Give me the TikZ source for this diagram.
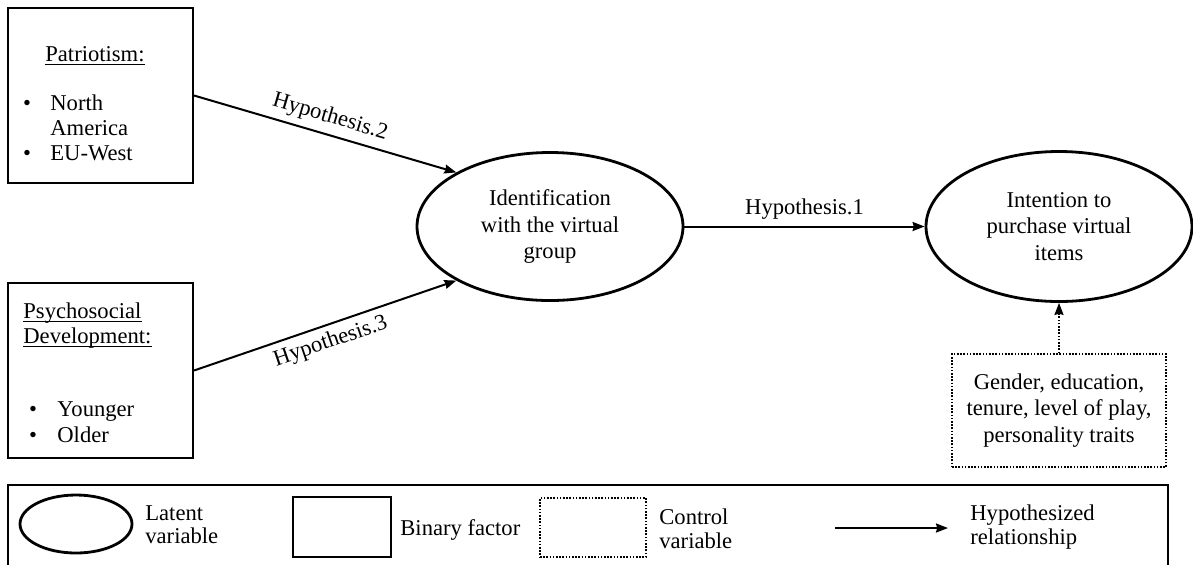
\documentclass[tikz,border=0pt]{standalone}
\usepackage{fontspec}
\setmainfont{Liberation Serif}
\usetikzlibrary{shapes.geometric,arrows.meta}
\begin{document}
\begin{tikzpicture}[x=0.5pt,y=-0.5pt,
  font=\fontsize{11.3}{13.2}\selectfont,
  factor/.style={draw, line width=1pt, rectangle, inner sep=0pt},
  latent/.style={draw, line width=1.4pt, ellipse, inner sep=0pt, align=center},
  control/.style={draw, line width=0.9pt, dash pattern=on 0.8pt off 0.8pt, rectangle, inner sep=0pt, align=center},
  rel/.style={line width=1pt, -{Stealth[length=6pt,width=4.5pt,inset=0.6pt]}},
  ctl/.style={line width=0.9pt, dash pattern=on 0.8pt off 0.8pt, -{Stealth[length=6pt,width=4.5pt,inset=0.6pt]}},
  lbl/.style={inner sep=0pt, anchor=base west},
  bul/.style={inner sep=0pt, anchor=base},
  hyp/.style={inner sep=3pt},
  uline/.style={line width=0.5pt}
]
\useasboundingbox (0,0) rectangle (1193,564);

% binary factor boxes
\node[factor, minimum width=92.5pt, minimum height=87.5pt] (pat) at (100.5,95.5) {};
\node[factor, minimum width=92.5pt, minimum height=87.5pt] (psy) at (100.5,370.5) {};

% Patriotism contents
\node[lbl] (patT) at (45,61) {Patriotism:};
\draw[uline] ([yshift=-1.8pt]patT.base west) -- ([yshift=-1.8pt]patT.base east);
\node[bul] (patB1) at (27,110) {•};
\node[lbl] (patI1) at (50,110) {North};
\node[lbl] (patI1b) at (50,135) {America};
\node[bul] (patB2) at (27,160) {•};
\node[lbl] (patI2) at (50,160) {EU-West};

% Psychosocial development contents
\node[lbl] (psyT1) at (23,318) {Psychosocial};
\node[lbl] (psyT2) at (23,343) {Development:};
\draw[uline] ([yshift=-1.8pt]psyT1.base west) -- ([yshift=-1.8pt]psyT1.base east);
\draw[uline] ([yshift=-1.8pt]psyT2.base west) -- ([yshift=-1.8pt]psyT2.base east);
\node[bul] (psyB1) at (33,416) {•};
\node[lbl] (psyI1) at (57,416) {Younger};
\node[bul] (psyB2) at (33,442) {•};
\node[lbl] (psyI2) at (57,442) {Older};

% latent variables
\node[latent, minimum width=133pt, minimum height=74pt] (ident) at (550,226.5)
  {Identification\\with the virtual\\group};
\node[latent, minimum width=133pt, minimum height=75pt] (intent) at (1059,226.5)
  {Intention to\\purchase virtual\\items};

% control variables
\node[control, minimum width=107pt, minimum height=56.5pt] (ctrl) at (1059,410.5)
  {Gender, education,\\tenure, level of play,\\personality traits};

% hypothesized relationships
\draw[rel] (pat.east) -- (ident.150) node[midway, above, sloped, hyp] (h2) {Hypothesis.2};
\draw[rel] (psy.east) -- (ident.210) node[midway, below, sloped, hyp] (h3) {Hypothesis.3};
\draw[rel] (ident.east) -- (intent.west) node[midway, above, hyp] (h1) {Hypothesis.1};
\draw[ctl] (ctrl.north) -- (intent.south);

% legend
\node[factor, minimum width=580pt, minimum height=42.5pt] (legend) at (588,527.5) {};
\node[latent, minimum width=56pt, minimum height=29pt] (kLat) at (76,524) {};
\node[lbl] (kLatT1) at (145,520) {Latent};
\node[lbl] (kLatT2) at (145,543) {variable};
\node[factor, minimum width=49pt, minimum height=30pt] (kBin) at (342,527) {};
\node[lbl] (kBinT) at (400,535) {Binary factor};
\node[control, minimum width=53pt, minimum height=29.5pt] (kCtl) at (593,527.5) {};
\node[lbl] (kCtlT1) at (659,524) {Control};
\node[lbl] (kCtlT2) at (659,548) {variable};
\coordinate (kA) at (835,528);
\coordinate (kB) at (948,528);
\draw[rel] (kA) -- (kB);
\node[lbl] (kRelT1) at (970,520) {Hypothesized};
\node[lbl] (kRelT2) at (970,544) {relationship};
\end{tikzpicture}
\end{document}
